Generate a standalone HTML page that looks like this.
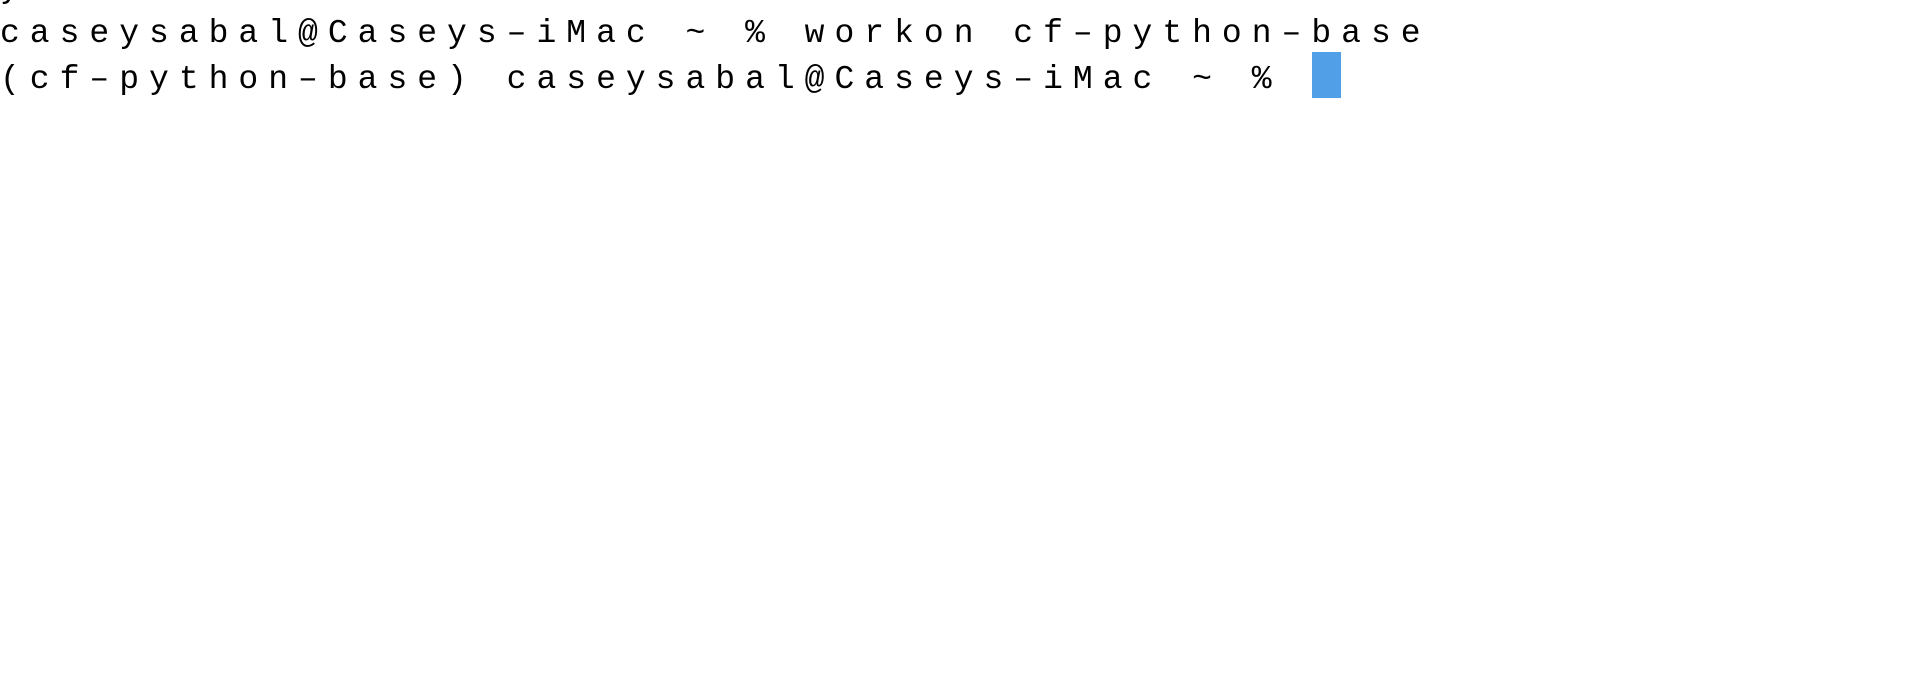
<!DOCTYPE html>
<html><head><meta charset="utf-8"><style>
html,body{margin:0;padding:0;background:#fff;width:1930px;height:682px;overflow:hidden;position:relative}
.l{position:absolute;left:0;height:46px;line-height:46px;font-family:"Liberation Mono",monospace;font-size:33px;letter-spacing:10px;color:#000;white-space:pre}
.cur{position:absolute;left:1312px;top:52px;width:29px;height:46px;background:#519fe6}
</style></head><body>
<div class="l" style="top:-34px">y</div>
<div class="l" style="top:11px">caseysabal@Caseys&#8211;iMac ~ % workon cf&#8211;python&#8211;base</div>
<div class="l" style="top:57px">(cf&#8211;python&#8211;base) caseysabal@Caseys&#8211;iMac ~ % </div>
<div class="cur"></div>
</body></html>
